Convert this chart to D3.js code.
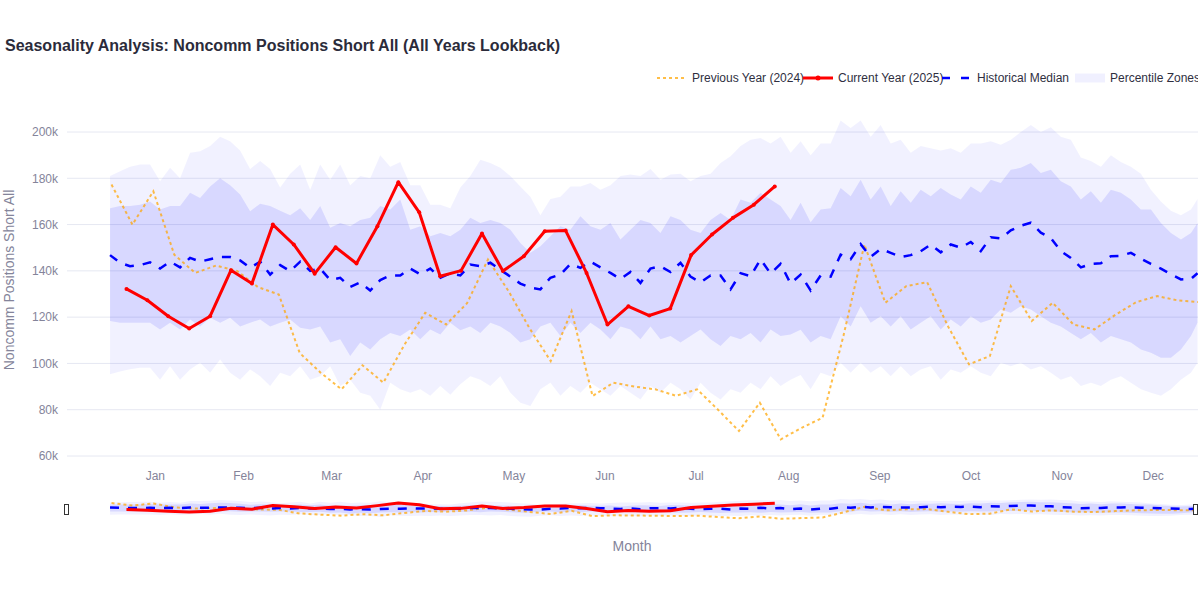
<!DOCTYPE html>
<html>
<head>
<meta charset="utf-8">
<script src="https://cdn.jsdelivr.net/npm/d3@7"></script>
<style>
  html, body { margin: 0; padding: 0; background: #fff; overflow: hidden; }
  svg { display: block; font-family: "Liberation Sans", Arial, sans-serif; }
</style>
</head>
<body>
<svg id="chart" width="1198" height="600"></svg>
<script>
// ---------------- DATA ----------------
const monthLabels = ["Jan","Feb","Mar","Apr","May","Jun","Jul","Aug","Sep","Oct","Nov","Dec"];
const monthMidDays = [15.5, 45, 74.5, 105, 135.5, 166, 196.5, 227.5, 258, 288.5, 319, 349.5];
const yTicks = [60000, 80000, 100000, 120000, 140000, 160000, 180000, 200000];

// day-of-year positions of the percentile / median profile
const bandDays = [...d3.range(0.5, 363, 3.35), 364.5];

// values in thousands
const p90 = [181,183,185,186,186,178.7,184.5,180,191,191.7,
  194,198,196,192,184,187.5,184,176,182,186,
  175,186,179.4,186,177,181,180,190,185,187,
  177,177,168.6,168.6,167,176,181,188,186.6,184.5,
  181,176.5,172,164,171,172,176.5,176.5,178,175,
  177,181,181.6,181,184,179.4,181.6,182,178.7,181,
  182,186.6,189.5,194,196.7,197.4,195,198,191,196,
  190,195,195,205,201.7,205,198,203,195,196.7,
  191,194,193,192,193,191,195,195,196,194.5,
  196.7,200,203,200,202,198,196.7,189,187.5,185,
  190,187,185,182,175,170,166,164,166.5,171];
const p75 = [167,168,168,168.6,170,166.5,168,168,173.7,171.5,
  176.5,180,177,173,165.8,169,168,166,164,167,
  162,168,158.6,160.7,159.3,162,163,168,166.5,170.8,
  157.8,159.3,155,156.4,155,157.8,163,160.7,162,160.7,
  157.8,152,147.8,150.6,155,159.3,157.8,163.6,159.3,157.8,
  160.7,153.5,157.8,162,160.7,156.4,163.6,162,157.8,156.4,
  162,165,162,170.8,169.4,173.7,170.8,168,162,169.4,
  161,166.5,167,175.8,172.2,179.4,170.8,176.5,168,174.4,
  169.4,175,172.2,175.8,173,170.8,176.5,173.7,179.4,178,
  183.7,184.5,186.6,182.3,183.7,178.7,176.5,170.8,174.4,169.4,
  175,173.7,170.8,166.5,166.5,160.7,156.4,153.5,156.4,160.7];
const p25 = [118.3,117.6,117.6,117.6,117.6,114.7,117.6,114.7,119,116,
  119.7,117.6,119.7,116,117.6,119,116,117.6,119,115.4,
  114.7,116,109,110.4,103.2,109,106,110.4,113.2,111.8,
  114.7,110.4,114.7,112.5,117.6,114.3,116,113.2,117.6,116,
  113.2,109,110.4,116,117.6,111.8,117.6,113.2,117.6,114.7,
  110.4,116,114.7,110.4,116,110.4,111.8,109,111.8,114.7,
  110.4,107.5,111.8,110.4,113.2,109,114.7,111.8,112.5,114.5,
  109,111.8,110.4,120.4,116,124.7,117.6,120.4,116,120.4,
  114.7,117.6,120.4,114.7,119,116,120.4,117.6,119,123.3,
  121.9,124.7,123.3,120.4,117.6,116,113.2,110.4,113.2,109,
  111.8,110.4,109,106,104.6,102.4,102.4,106,111.8,117.6];
const p10 = [95.3,96.5,97.5,98.1,98.1,93,98.8,93,97.4,100.3,
  96,101.7,96,93,97.4,94.5,90.2,96,94.5,98.8,
  93,94.5,98.8,90.2,93,87.3,86,80,91.6,88.8,
  87.3,88.8,86,90.2,86.5,91,94.5,93,90.2,94.5,
  87.3,83,81.6,88.8,91.6,86,90.2,87.3,91.6,88.8,
  86,90.2,87.3,84.4,90.2,87.3,91.6,88.8,84.4,91.6,
  87.3,84.4,88.8,87.3,91.6,88.8,94.5,90.2,93,95,
  88.8,96,94.5,100.3,96,100.3,96,98.8,94.5,98.8,
  94.5,97.4,98.8,93,97.4,96,98.8,96,94.5,100.3,
  98.8,100.3,97.4,98.8,96,93,94.5,90.2,91.6,90.2,
  93,94.5,91.6,88.8,87.3,86,88.8,93,96,100.3];
const median = [146.8,143.5,142,142.5,143.7,141,144,141.5,145.6,144,
  145,146,146,144.5,141.3,144,138.4,142.5,139.9,144,
  140,141,136,137,133,135,131.5,136,138,138,
  141,138.5,141,137,139,138,142.7,142,143.5,140.5,
  137.5,134.5,132.7,132,137,138.4,143,141.3,144,141.5,
  139.1,136.5,139.5,134.8,141,142,139.5,143.5,137.5,135,
  138,138,132,139,137.7,145,138.8,143,134.5,138.4,
  131.5,138,137.5,147,145,151.5,146,149.5,147.8,146,
  146.8,148.5,151.4,148,151.4,150,152.5,148.5,154.5,154,
  157.5,159.5,160.8,156.5,154.2,148.5,145.6,141.5,143,143.3,
  146.3,146.5,147.8,145.3,143,141,138.5,136.3,136.5,139];

// weekly report days (day of year)
const prevDays = d3.range(0, 53).map(k => 1 + 7 * k);   // 2024: Jan 2 ... Dec 31
const prevYear = [177.3,160,174.4,147,139.1,142.3,140,133,129.8,104.5,
  96,88.8,99.2,91.7,108,121.9,116.8,126,144.9,131,
  115,101,122.6,85.9,91.7,90,88.8,86,88.8,80,
  70.8,83,67.2,72.2,76.5,112,151.4,126.2,133.4,135.1,
  116,99.6,103.2,133.4,118.3,126.2,116.8,114.7,121,126.5,
  129.1,127.2,126.5];
const curDays = d3.range(0, 32).map(k => 6 + 7 * k);     // 2025: Jan 7 ... Aug 12
const curYear = [132.2,127.3,120.4,115.1,120.4,140.3,134.5,160,151.4,138.8,
  150.2,143.2,159.3,178.3,165.3,137.7,140.1,156.1,139.9,146.3,
  157.1,157.4,139.1,116.8,124.7,120.7,123.7,146.8,155.7,162.9,
  168.6,176.5];

const legendItems = ["Previous Year (2024)", "Current Year (2025)", "Historical Median", "Percentile Zones"];

// ---------------- STYLE ----------------
const C = {
  title: "#2b2b3a", text: "#2f2f3f", axis: "#84849a", grid: "#e6e8f2",
  prev: "rgba(255,165,0,0.72)", cur: "#ff0000", med: "#0000ff",
  outer: "rgba(0,0,255,0.055)", inner: "rgba(0,0,255,0.1)"
};

const svg = d3.select("#chart");
const plotL = 67, plotR = 1202;
const x = d3.scaleLinear().domain([-13.9, 366]).range([plotL, plotR]);
const y = d3.scaleLinear().domain([60000, 200000]).range([456, 132]);
const ys = d3.scaleLinear().domain([0, 270000]).range([528.4, 489.8]);

const band = (lo, hi) => bandDays.map((d, i) => ({ d, lo: lo[i] * 1000, hi: hi[i] * 1000 }));
const pts = (days, vals) => days.map((d, i) => ({ d, v: vals[i] * 1000 }));

svg.append("defs").append("clipPath").attr("id", "clipX")
  .append("rect").attr("x", plotL).attr("y", 0).attr("width", plotR - plotL).attr("height", 600);

// Title
svg.append("text").attr("x", 5).attr("y", 51)
  .attr("font-size", 16).attr("font-weight", "bold").attr("fill", C.title)
  .text("Seasonality Analysis: Noncomm Positions Short All (All Years Lookback)");

// Grid + y ticks
const gy = svg.append("g");
yTicks.forEach(t => {
  gy.append("line").attr("x1", plotL).attr("x2", plotR).attr("y1", y(t)).attr("y2", y(t))
    .attr("stroke", C.grid).attr("stroke-width", 1);
});
const yAxis = d3.axisLeft(y).tickValues(yTicks).tickFormat(d3.format("~s")).tickSize(0).tickPadding(0);
const yg = svg.append("g").attr("transform", `translate(${plotL - 9},0)`).call(yAxis);
yg.select(".domain").remove();
yg.selectAll("text").attr("fill", C.axis).attr("font-size", 12)
  .attr("font-family", "Liberation Sans, Arial, sans-serif");

// x ticks
const xAxis = d3.axisBottom(x).tickValues(monthMidDays).tickFormat((d, i) => monthLabels[i]).tickSize(0).tickPadding(0);
const xg = svg.append("g").attr("transform", "translate(0,471)").call(xAxis);
xg.select(".domain").remove();
xg.selectAll("text").attr("fill", C.axis).attr("font-size", 12)
  .attr("font-family", "Liberation Sans, Arial, sans-serif");

// axis titles
svg.append("text").attr("transform", "translate(14,280) rotate(-90)")
  .attr("text-anchor", "middle").attr("font-size", 14).attr("fill", C.axis)
  .text("Noncomm Positions Short All");
svg.append("text").attr("x", 632).attr("y", 551).attr("text-anchor", "middle")
  .attr("font-size", 14).attr("fill", C.axis).text("Month");

// drawing function (main + slider)
function drawTraces(g, yy, mini) {
  const area = d3.area().x(p => x(p.d)).y0(p => yy(p.lo)).y1(p => yy(p.hi));
  const line = d3.line().x(p => x(p.d)).y(p => yy(p.v));
  g.append("path").datum(band(p10, p90)).attr("d", area).attr("fill", C.outer);
  g.append("path").datum(band(p25, p75)).attr("d", area).attr("fill", C.inner);
  g.append("path").datum(pts(prevDays, prevYear)).attr("d", line)
    .attr("fill", "none").attr("stroke", C.prev).attr("stroke-width", 2).attr("stroke-dasharray", "3,3");
  g.append("path").datum(pts(bandDays, median)).attr("d", line)
    .attr("fill", "none").attr("stroke", C.med).attr("stroke-width", 2.5).attr("stroke-dasharray", "9,9");
  g.append("path").datum(pts(curDays, curYear)).attr("d", line)
    .attr("fill", "none").attr("stroke", C.cur).attr("stroke-width", 3).attr("stroke-linejoin", "round");
  if (!mini) {
    g.selectAll("circle.cur").data(pts(curDays, curYear)).enter().append("circle")
      .attr("cx", p => x(p.d)).attr("cy", p => yy(p.v)).attr("r", 2).attr("fill", C.cur);
  }
}
drawTraces(svg.append("g").attr("clip-path", "url(#clipX)"), y, false);
drawTraces(svg.append("g").attr("clip-path", "url(#clipX)"), ys, true);

// range slider handles
[64.5, 1193.5].forEach(hx => {
  svg.append("rect").attr("x", hx).attr("y", 504.5).attr("width", 4).attr("height", 10)
    .attr("fill", "#fff").attr("stroke", "#333").attr("stroke-width", 1);
});

// Legend
const lg = svg.append("g").attr("font-size", 12).attr("fill", C.text);
const ly = 78;
lg.append("line").attr("x1", 657).attr("x2", 687).attr("y1", ly).attr("y2", ly)
  .attr("stroke", C.prev).attr("stroke-width", 2).attr("stroke-dasharray", "3,3");
lg.append("text").attr("x", 692).attr("y", ly + 4).text(legendItems[0]);
lg.append("line").attr("x1", 803).attr("x2", 833).attr("y1", ly).attr("y2", ly)
  .attr("stroke", C.cur).attr("stroke-width", 3);
lg.append("circle").attr("cx", 818).attr("cy", ly).attr("r", 2.5).attr("fill", C.cur);
lg.append("text").attr("x", 838).attr("y", ly + 4).text(legendItems[1]);
lg.append("line").attr("x1", 942).attr("x2", 972).attr("y1", ly).attr("y2", ly)
  .attr("stroke", C.med).attr("stroke-width", 2.5).attr("stroke-dasharray", "8,11");
lg.append("text").attr("x", 977).attr("y", ly + 4).text(legendItems[2]);
lg.append("rect").attr("x", 1075).attr("y", ly - 4.5).attr("width", 30).attr("height", 9)
  .attr("fill", "rgba(0,0,255,0.06)");
lg.append("text").attr("x", 1110).attr("y", ly + 4).text(legendItems[3]);
</script>
</body>
</html>
